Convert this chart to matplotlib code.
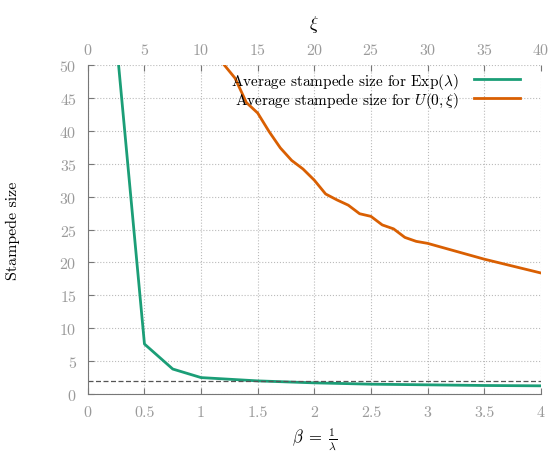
import numpy as np
import matplotlib
matplotlib.use("Agg")
import matplotlib.pyplot as plt

plt.rcParams['font.family'] = ['cmr10', 'DejaVu Serif']
plt.rcParams['mathtext.fontset'] = 'cm'
plt.rcParams['axes.formatter.use_mathtext'] = True

# exponential case, x = beta = 1/lambda
beta = [0.25, 0.5, 0.75, 1.0, 1.5, 2.0, 2.5, 3.0, 3.5, 4.0]
exp_size = [54.0, 7.6, 3.8, 2.5, 2.0, 1.7, 1.5, 1.4, 1.3, 1.25]

# uniform case, x = xi
xi = [12, 13, 14, 15, 16, 17, 18, 19, 20, 21, 22, 23, 24, 25, 26, 27, 28, 29, 30, 35, 40]
unif_size = [50.1, 48.0, 44.3, 42.7, 39.9, 37.4, 35.5, 34.2, 32.5, 30.4, 29.5, 28.7,
             27.4, 27.0, 25.7, 25.1, 23.8, 23.2, 22.9, 20.5, 18.4]

ref_level = 2.0

GREEN = '#1b9e77'
ORANGE = '#d95f02'
TICKGRAY = '#9a9a9a'

fig = plt.figure(figsize=(5.49, 4.52), dpi=100)
ax = fig.add_axes([0.160, 0.126, 0.825, 0.728])
ax2 = ax.twiny()

l1, = ax.plot(beta, exp_size, color=GREEN, lw=2.0, label=r'Average stampede size for $\mathrm{Exp}(\lambda)$')
l2, = ax2.plot(xi, unif_size, color=ORANGE, lw=2.0, label=r'Average stampede size for $U(0,\xi)$')
ax.axhline(ref_level, color='#555555', lw=0.9, ls=(0, (4, 2)))

ax.set_xlim(0, 4)
ax.set_ylim(0, 50)
ax2.set_xlim(0, 40)
ax.set_xticks(np.arange(0, 4.01, 0.5))
ax.set_xticklabels(['0', '0.5', '1', '1.5', '2', '2.5', '3', '3.5', '4'])
ax.set_yticks(np.arange(0, 51, 5))
ax2.set_xticks(np.arange(0, 41, 5))

ax.grid(True, color='#bbbbbb', ls=':', lw=0.8)
for a in (ax, ax2):
    a.spines['top'].set_visible(False)
    a.spines['right'].set_visible(False)
    a.spines['left'].set_color('#777777')
    a.spines['bottom'].set_color('#777777')
ax2.spines['left'].set_visible(False)
ax2.spines['bottom'].set_visible(False)

ax.tick_params(direction='in', length=4, color='#777777', labelcolor=TICKGRAY, labelsize=11.5, pad=8)
ax2.tick_params(direction='in', length=4, color='#777777', labelcolor=TICKGRAY, labelsize=11.5, pad=6)

ax.set_xlabel(r'$\beta\;=\;\frac{1}{\lambda}$', fontsize=12, labelpad=5)
ax.set_ylabel('Stampede size', fontsize=11.5, labelpad=28)
ax2.set_xlabel(r'$\xi$', fontsize=13, labelpad=10)

leg = ax2.legend(handles=[l1, l2], loc='upper right', bbox_to_anchor=(0.985, 1.025),
                 frameon=False, markerfirst=False, fontsize=11, handlelength=3.0,
                 labelspacing=-0.05, handletextpad=1.0)

fig.savefig('out.png', dpi=100)
